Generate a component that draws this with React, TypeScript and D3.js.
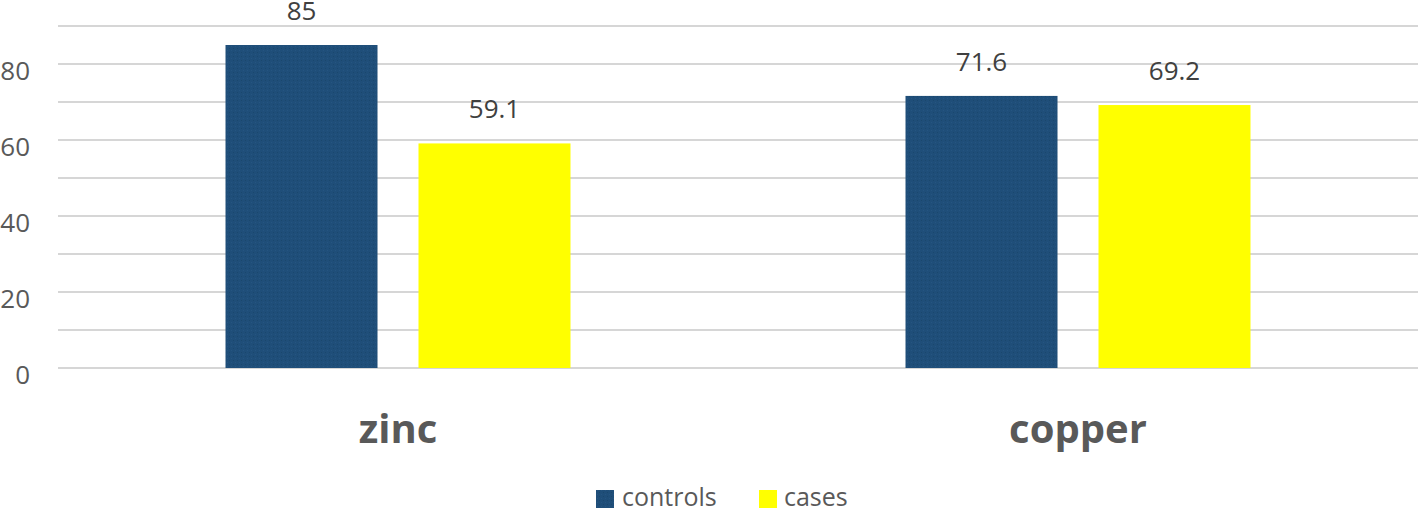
import React from "react";
import * as d3 from "d3";

const categories = ["zinc", "copper"];
const seriesNames = ["controls", "cases"];
const controlsValues = [85, 71.6];
const casesValues = [59.1, 69.2];
const yTicks = [0, 20, 40, 60, 80];
const gridValues = [0, 10, 20, 30, 40, 50, 60, 70, 80, 90];
const colors = ["#1f4e79", "#ffff00"];

const W = 1418;
const H = 508;
const FONT = "'Open Sans', 'Noto Sans', sans-serif";

export default function App() {
  const plotLeft = 58;
  const plotRight = 1418;
  const y = d3.scaleLinear().domain([0, 90]).range([368, 26]);
  const x0 = d3.scaleBand<string>().domain(categories).range([plotLeft, plotRight]).padding(0);
  const x1 = d3
    .scaleBand<string>()
    .domain(seriesNames)
    .range([0, x0.bandwidth()])
    .paddingInner(0.2124)
    .paddingOuter(0.868);

  const seriesData = [controlsValues, casesValues];

  return (
    <svg
      width={W}
      height={H}
      style={{ position: "absolute", left: 0, top: 0, background: "#fff" }}
      fontFamily={FONT}
    >
      <defs>
        <pattern id="tex" width="4" height="4" patternUnits="userSpaceOnUse">
          <rect width="4" height="4" fill="#1f4e79" />
          <rect x="1" y="2" width="1" height="1" fill="#2a5a87" opacity="0.6" />
          <rect x="3" y="0" width="1" height="1" fill="#184266" opacity="0.6" />
        </pattern>
      </defs>
      {gridValues.map((g) => (
        <line
          key={g}
          x1={plotLeft}
          x2={plotRight}
          y1={y(g)}
          y2={y(g)}
          stroke="#d6d6d6"
          strokeWidth={2}
        />
      ))}
      {yTicks.map((t) => (
        <text
          key={t}
          x={30}
          y={y(t) + 16}
          textAnchor="end"
          fontSize={26}
          fill="#595959"
        >
          {t}
        </text>
      ))}
      {categories.map((c, ci) => (
        <g key={c} transform={`translate(${x0(c)},0)`}>
          {seriesNames.map((s, si) => {
            const v = seriesData[si][ci];
            const bx = x1(s)!;
            return (
              <g key={s}>
                <rect
                  x={bx}
                  y={y(v)}
                  width={x1.bandwidth()}
                  height={y(0) - y(v)}
                  fill={si === 0 ? "url(#tex)" : colors[si]}
                />
                <text
                  x={bx + x1.bandwidth() / 2}
                  y={y(v) - 25}
                  textAnchor="middle"
                  fontSize={26}
                  fill="#404040"
                >
                  {v}
                </text>
              </g>
            );
          })}
          <text
            x={x0.bandwidth() / 2}
            y={443}
            textAnchor="middle"
            fontSize={40}
            fontWeight="bold"
            fill="#595959"
          >
            {c}
          </text>
        </g>
      ))}
      <g>
        <rect x={596} y={490} width={18} height={18} fill="url(#tex)" />
        <text x={622} y={506} fontSize={25} fill="#595959">
          {seriesNames[0]}
        </text>
        <rect x={759} y={490} width={18} height={18} fill={colors[1]} />
        <text x={784} y={506} fontSize={25} fill="#595959">
          {seriesNames[1]}
        </text>
      </g>
    </svg>
  );
}
